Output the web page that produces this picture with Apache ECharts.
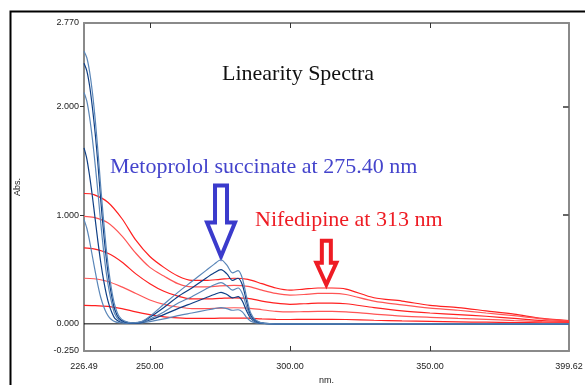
<!DOCTYPE html>
<html>
<head>
<meta charset="utf-8">
<script src="https://cdn.jsdelivr.net/npm/echarts@6/dist/echarts.min.js"></script>
<style>
  html, body { margin: 0; padding: 0; background: #fff; }
  #chart { width: 585px; height: 385px; }
</style>
</head>
<body>
<div id="chart"></div>
<script>
// wavelength grids (nm)
const redNm = [226.49, 230, 235, 240, 245, 250, 255, 260, 265, 270, 275, 280, 285, 290, 295, 300, 305, 310, 315, 320, 330, 340, 350, 360, 370, 380, 390, 399.62];
const blueNm = [226.49, 227.5, 228.5, 229.5, 230.5, 231.5, 232.5, 233.5, 234.5, 235.5, 236.5, 237.5, 239, 241, 244, 247, 250, 255, 260, 265, 270, 273, 275.4, 277.5, 279.5, 281.5, 283, 284.5, 286, 288, 291, 300, 350, 399.62];

// Nifedipine spectra (absorbance)
const nif1 = [1.20, 1.19, 1.12, 0.97, 0.77, 0.62, 0.52, 0.44, 0.40, 0.40, 0.41, 0.42, 0.41, 0.37, 0.33, 0.31, 0.32, 0.33, 0.33, 0.32, 0.24, 0.21, 0.17, 0.15, 0.12, 0.09, 0.05, 0.03];
const nif2 = [0.99, 0.98, 0.93, 0.81, 0.65, 0.52, 0.44, 0.37, 0.34, 0.34, 0.35, 0.355, 0.345, 0.31, 0.28, 0.265, 0.27, 0.28, 0.28, 0.27, 0.21, 0.175, 0.145, 0.125, 0.10, 0.075, 0.045, 0.025];
const nif3 = [0.70, 0.69, 0.65, 0.57, 0.46, 0.37, 0.30, 0.255, 0.23, 0.23, 0.235, 0.24, 0.235, 0.21, 0.19, 0.18, 0.185, 0.19, 0.19, 0.185, 0.15, 0.12, 0.10, 0.085, 0.07, 0.05, 0.03, 0.02];
const nif4 = [0.42, 0.415, 0.39, 0.34, 0.28, 0.22, 0.18, 0.155, 0.14, 0.14, 0.145, 0.148, 0.145, 0.13, 0.115, 0.11, 0.112, 0.114, 0.114, 0.11, 0.09, 0.072, 0.06, 0.05, 0.042, 0.03, 0.02, 0.015];
const nif5 = [0.17, 0.168, 0.16, 0.14, 0.11, 0.085, 0.065, 0.055, 0.05, 0.05, 0.052, 0.053, 0.052, 0.046, 0.042, 0.04, 0.041, 0.042, 0.042, 0.04, 0.033, 0.027, 0.022, 0.018, 0.015, 0.012, 0.01, 0.01];

// Metoprolol succinate spectra (absorbance)
const met1 = [2.51, 2.45, 2.32, 2.13, 1.88, 1.58, 1.25, 0.95, 0.68, 0.46, 0.29, 0.17, 0.07, 0.025, 0.01, 0.02, 0.07, 0.18, 0.29, 0.39, 0.49, 0.55, 0.59, 0.54, 0.47, 0.49, 0.42, 0.25, 0.10, 0.03, 0.005, 0, 0, 0];
const met2 = [2.40, 2.33, 2.19, 1.99, 1.75, 1.46, 1.13, 0.84, 0.59, 0.39, 0.24, 0.13, 0.05, 0.018, 0.008, 0.018, 0.06, 0.15, 0.25, 0.33, 0.42, 0.47, 0.50, 0.46, 0.40, 0.42, 0.36, 0.21, 0.08, 0.025, 0.005, 0, 0, 0];
const met3 = [2.13, 2.05, 1.90, 1.70, 1.46, 1.20, 0.92, 0.67, 0.46, 0.30, 0.18, 0.09, 0.035, 0.012, 0.008, 0.015, 0.045, 0.11, 0.19, 0.25, 0.32, 0.36, 0.38, 0.35, 0.31, 0.33, 0.28, 0.16, 0.06, 0.02, 0.004, 0, 0, 0];
const met4 = [1.62, 1.52, 1.36, 1.17, 0.96, 0.75, 0.56, 0.40, 0.27, 0.17, 0.10, 0.05, 0.022, 0.01, 0.006, 0.012, 0.035, 0.085, 0.14, 0.19, 0.24, 0.27, 0.29, 0.27, 0.24, 0.25, 0.21, 0.12, 0.05, 0.015, 0.003, 0, 0, 0];
const met5 = [0.96, 0.88, 0.76, 0.62, 0.48, 0.35, 0.24, 0.16, 0.10, 0.06, 0.035, 0.02, 0.01, 0.006, 0.004, 0.008, 0.02, 0.045, 0.075, 0.10, 0.125, 0.14, 0.15, 0.14, 0.125, 0.13, 0.11, 0.06, 0.025, 0.008, 0.002, 0, 0, 0];

// axis labels
const xLabels = [226.49, 250, 300, 350, 399.62];
const xTicks = [250, 300, 350];
const yLabels = [-0.25, 0, 1, 2, 2.77];
const yTicks = [1, 2];

const redColors = ['#ff2020', '#ff5555', '#ff2020', '#ff5555', '#ff2020'];
const blueColors = ['#5a86b8', '#0f3f85', '#5a86b8', '#0f3f85', '#5a86b8'];

const pair = (xs, ys) => xs.map((x, i) => [x, ys[i]]);

const chartDom = document.getElementById('chart');
const myChart = echarts.init(chartDom);

const lineSeries = (data, color) => ({
  type: 'line',
  data: data,
  showSymbol: false,
  smooth: 0.3,
  silent: true,
  lineStyle: { color: color, width: 1.2 },
});

const series = [];
[nif1, nif2, nif3, nif4, nif5].forEach((s, i) => series.push(lineSeries(pair(redNm, s), redColors[i])));
[met5, met4, met3, met2, met1].forEach((s, i) => series.push(lineSeries(pair(blueNm, s), blueColors[i])));

const axisGray = { show: true, onZero: false, lineStyle: { color: '#8a8a8a', width: 2 } };
const labelStyle = { color: '#222', fontFamily: 'Liberation Sans', fontSize: 9 };

const option = {
  animation: false,
  grid: { left: 84, right: 16, top: 23, bottom: 34, outerBoundsMode: 'none' },
  xAxis: [
    {
      type: 'value',
      min: 226.49,
      max: 399.62,
      position: 'bottom',
      axisLine: axisGray,
      splitLine: { show: false },
      axisTick: { inside: true, length: 5, customValues: xTicks, lineStyle: { color: '#333' } },
      axisLabel: { customValues: xLabels, formatter: (v) => v.toFixed(2), margin: 11, ...labelStyle },
      name: 'nm.',
      nameLocation: 'middle',
      nameGap: 24,
      nameTextStyle: { ...labelStyle },
    },
    {
      type: 'value',
      min: 226.49,
      max: 399.62,
      position: 'top',
      axisLine: axisGray,
      splitLine: { show: false },
      axisTick: { inside: true, length: 5, customValues: xTicks, lineStyle: { color: '#333' } },
      axisLabel: { show: false },
    },
  ],
  yAxis: [
    {
      type: 'value',
      min: -0.25,
      max: 2.77,
      position: 'left',
      axisLine: axisGray,
      splitLine: { show: false },
      axisTick: { inside: false, length: 4, customValues: yTicks, lineStyle: { color: '#333' } },
      axisLabel: { customValues: yLabels, formatter: (v) => v.toFixed(3), margin: 5, ...labelStyle },
      name: 'Abs.',
      nameLocation: 'middle',
      nameGap: 62,
      nameRotate: 90,
      nameTextStyle: { ...labelStyle },
    },
    {
      type: 'value',
      min: -0.25,
      max: 2.77,
      position: 'right',
      axisLine: axisGray,
      splitLine: { show: false },
      axisTick: { inside: true, length: 6, customValues: yTicks, lineStyle: { color: '#666', width: 2 } },
      axisLabel: { show: false },
    },
  ],
  series: [
    ...series,
    {
      // zero baseline
      type: 'line',
      data: [[226.49, 0], [399.62, 0]],
      showSymbol: false,
      silent: true,
      z: 1,
      lineStyle: { color: '#000', width: 1 },
    },
  ],
};

myChart.setOption(option);

// hollow arrow outline pointing down with tip at (x, y)
function arrowPoints(x, y, shaftW, shaftH, headW, headH) {
  return [
    [x - shaftW / 2, y - headH - shaftH],
    [x + shaftW / 2, y - headH - shaftH],
    [x + shaftW / 2, y - headH],
    [x + headW / 2, y - headH],
    [x, y],
    [x - headW / 2, y - headH],
    [x - shaftW / 2, y - headH],
  ];
}

const blueTip = myChart.convertToPixel({ gridIndex: 0 }, [275.4, 0.62]);
const redTip = myChart.convertToPixel({ gridIndex: 0 }, [313, 0.36]);

myChart.setOption({
  graphic: [
    {
      type: 'rect',
      left: 8, top: 9,
      shape: { width: 600, height: 400 },
      style: { fill: 'none', stroke: '#000', lineWidth: 2 },
      silent: true,
    },
    {
      type: 'text', left: 222, top: 63,
      style: { text: 'Linearity Spectra', fill: '#111', font: '22px "Liberation Serif"' },
    },
    {
      type: 'text', left: 110, top: 156,
      style: { text: 'Metoprolol succinate at 275.40 nm', fill: '#4444cc', font: '22px "Liberation Serif"' },
    },
    {
      type: 'text', left: 255, top: 209,
      style: { text: 'Nifedipine at 313 nm', fill: '#ee1c24', font: '22px "Liberation Serif"' },
    },
    {
      type: 'polygon',
      shape: { points: arrowPoints(blueTip[0], blueTip[1], 12, 37, 28, 34) },
      style: { fill: 'none', stroke: '#3b3bcc', lineWidth: 4, lineJoin: 'miter' },
    },
    {
      type: 'polygon',
      shape: { points: arrowPoints(redTip[0], redTip[1], 9, 22, 20, 22) },
      style: { fill: 'none', stroke: '#ee1c24', lineWidth: 4, lineJoin: 'miter' },
    },
  ],
});
</script>
</body>
</html>
